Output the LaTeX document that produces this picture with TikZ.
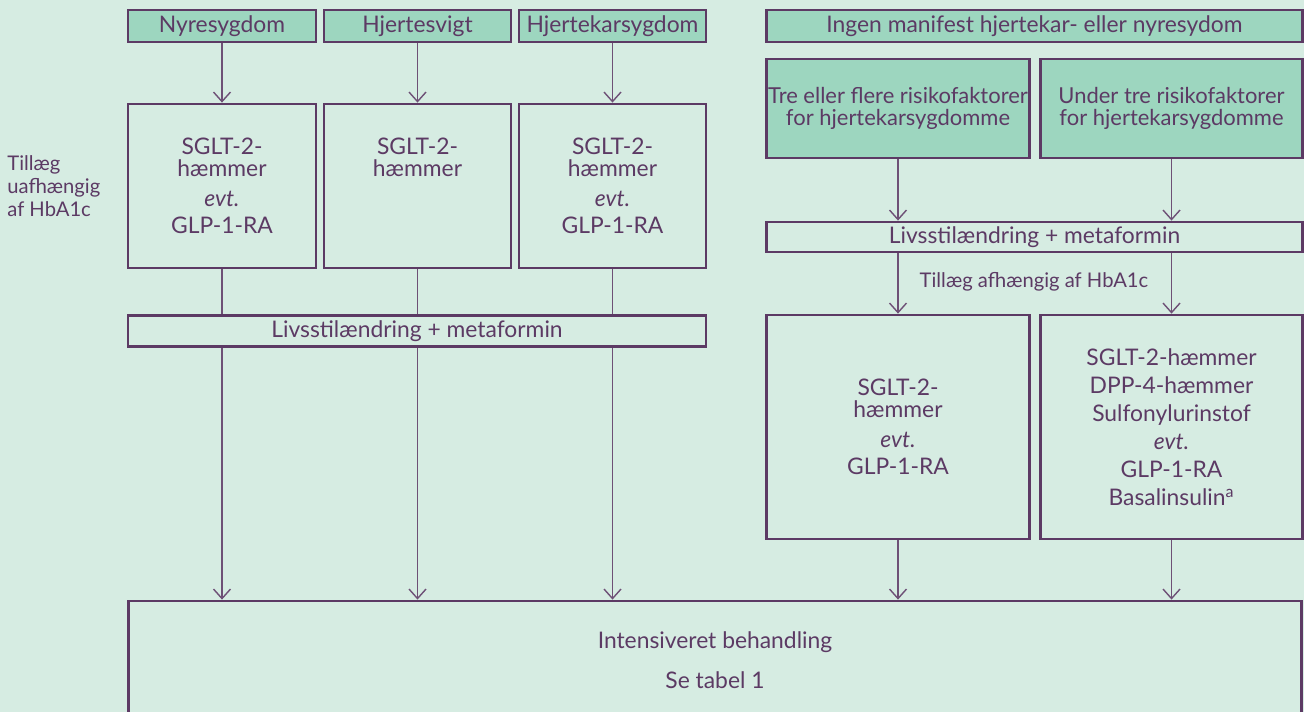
\documentclass[tikz,border=0pt]{standalone}
\usepackage{fontspec}
\setmainfont{Lato}
\definecolor{dkBaggrund}{HTML}{D6ECE2}
\definecolor{dkGroen}{HTML}{9DD6BF}
\definecolor{dkLilla}{HTML}{5C3A64}
\definecolor{dkLinje}{HTML}{6E5076}
\usetikzlibrary{
	arrows.meta,
	positioning
}
\tikzset{
	gruppe/.style={
		draw=dkLilla,
		line width=1.6pt,
		fill=dkGroen,
		text=dkLilla,
		align=center,
		inner sep=0pt,
		font=\fontsize{13}{15.5}\selectfont
	},
	felt/.style={
		draw=dkLilla,
		line width=1.6pt,
		fill=dkBaggrund,
		text=dkLilla,
		align=center,
		inner sep=0pt,
		font=\fontsize{13}{15.5}\selectfont
	},
	tekst/.style={
		text=dkLilla,
		inner sep=0pt,
		font=\fontsize{11.5}{13}\selectfont
	},
	linje/.style={
		line width=0.8pt,
		dkLinje
	},
	pil/.style={
		-{Straight Barb[length=0.19cm,width=0.34cm]},
		line width=0.8pt,
		dkLinje
	}
}
\begin{document}
\begin{tikzpicture}[x=0.02cm,y=-0.02cm]
		\useasboundingbox (0,0) rectangle (1304,712);
		\fill[dkBaggrund] (0,0) rectangle (1304,712);
		\clip (0,0) rectangle (1304,712);
		% venstre side
		\node[gruppe, minimum width=3.76cm, minimum height=0.64cm] (nyre) at (222,26) {Nyresygdom};
		\node[gruppe, minimum width=3.74cm, minimum height=0.64cm] (svigt) at (417.5,26) {Hjertesvigt};
		\node[gruppe, minimum width=3.74cm, minimum height=0.64cm] (kar) at (612.5,26) {Hjertekarsygdom};
		\node[felt, minimum width=3.76cm, minimum height=3.28cm] (nyreBeh) at (222,186) {SGLT-2-\\[-3pt]hæmmer\\[1.5pt]\textit{evt.}\\GLP-1-RA};
		\node[felt, minimum width=3.74cm, minimum height=3.28cm] (svigtBeh) at (417.5,186) {SGLT-2-\\[-3pt]hæmmer\\[1.5pt]\phantom{\textit{evt.}}\\\phantom{GLP-1-RA}};
		\node[felt, minimum width=3.74cm, minimum height=3.28cm] (karBeh) at (612.5,186) {SGLT-2-\\[-3pt]hæmmer\\[1.5pt]\textit{evt.}\\GLP-1-RA};
		\node[tekst, anchor=west, align=left] (tillaegU) at (7,186) {Tillæg\\uafhængig\\af HbA1c};
		\node[felt, minimum width=11.56cm, minimum height=0.62cm] (livsstilV) at (417,331) {Livsstilændring + metaformin};
		% hoejre side
		\node[gruppe, minimum width=10.72cm, minimum height=0.64cm] (ingen) at (1034.5,26) {Ingen manifest hjertekar- eller nyresydom};
		\node[gruppe, minimum width=5.26cm, minimum height=1.98cm, font=\fontsize{12.5}{15}\selectfont] (treFlere) at (898,108.5) {Tre eller flere risikofaktorer\\[-2pt]for hjertekarsygdomme};
		\node[gruppe, minimum width=5.24cm, minimum height=1.98cm, font=\fontsize{12.5}{15}\selectfont] (underTre) at (1171.5,108.5) {Under tre risikofaktorer\\[-2pt]for hjertekarsygdomme};
		\node[felt, minimum width=10.72cm, minimum height=0.6cm] (livsstilH) at (1034.5,237) {Livsstilændring + metaformin};
		\node[tekst] (tillaegA) at (1034,282) {Tillæg afhængig af HbA1c};
		\node[felt, minimum width=5.26cm, minimum height=4.48cm] (treBeh) at (898,427) {SGLT-2-\\[-3pt]hæmmer\\[1.5pt]\textit{evt.}\\GLP-1-RA};
		\node[felt, minimum width=5.24cm, minimum height=4.48cm, font=\fontsize{13}{16}\selectfont] (underBeh) at (1171.5,427) {SGLT-2-hæmmer\\DPP-4-hæmmer\\Sulfonylurinstof\\\textit{evt.}\\GLP-1-RA\\Basalinsulin\textsuperscript{a}};
		% faelles
		\node[felt, minimum width=23.48cm, minimum height=2.36cm] (intens) at (715,660) {Intensiveret behandling\\[7.3pt]Se tabel 1};
		% forbindelser
		\foreach \top/\beh in {nyre/nyreBeh,svigt/svigtBeh,kar/karBeh}{
			\draw[pil] (\top) -- (\beh);
			\draw[linje] (\beh) -- (\beh |- livsstilV.north);
			\draw[pil] (\beh |- livsstilV.south) -- (\beh |- intens.north);
		}
		\foreach \top/\beh in {treFlere/treBeh,underTre/underBeh}{
			\draw[pil] (\top) -- (\top |- livsstilH.north);
			\draw[pil] (\top |- livsstilH.south) -- (\beh);
			\draw[pil] (\beh) -- (\beh |- intens.north);
		}
	\end{tikzpicture}
\end{document}
